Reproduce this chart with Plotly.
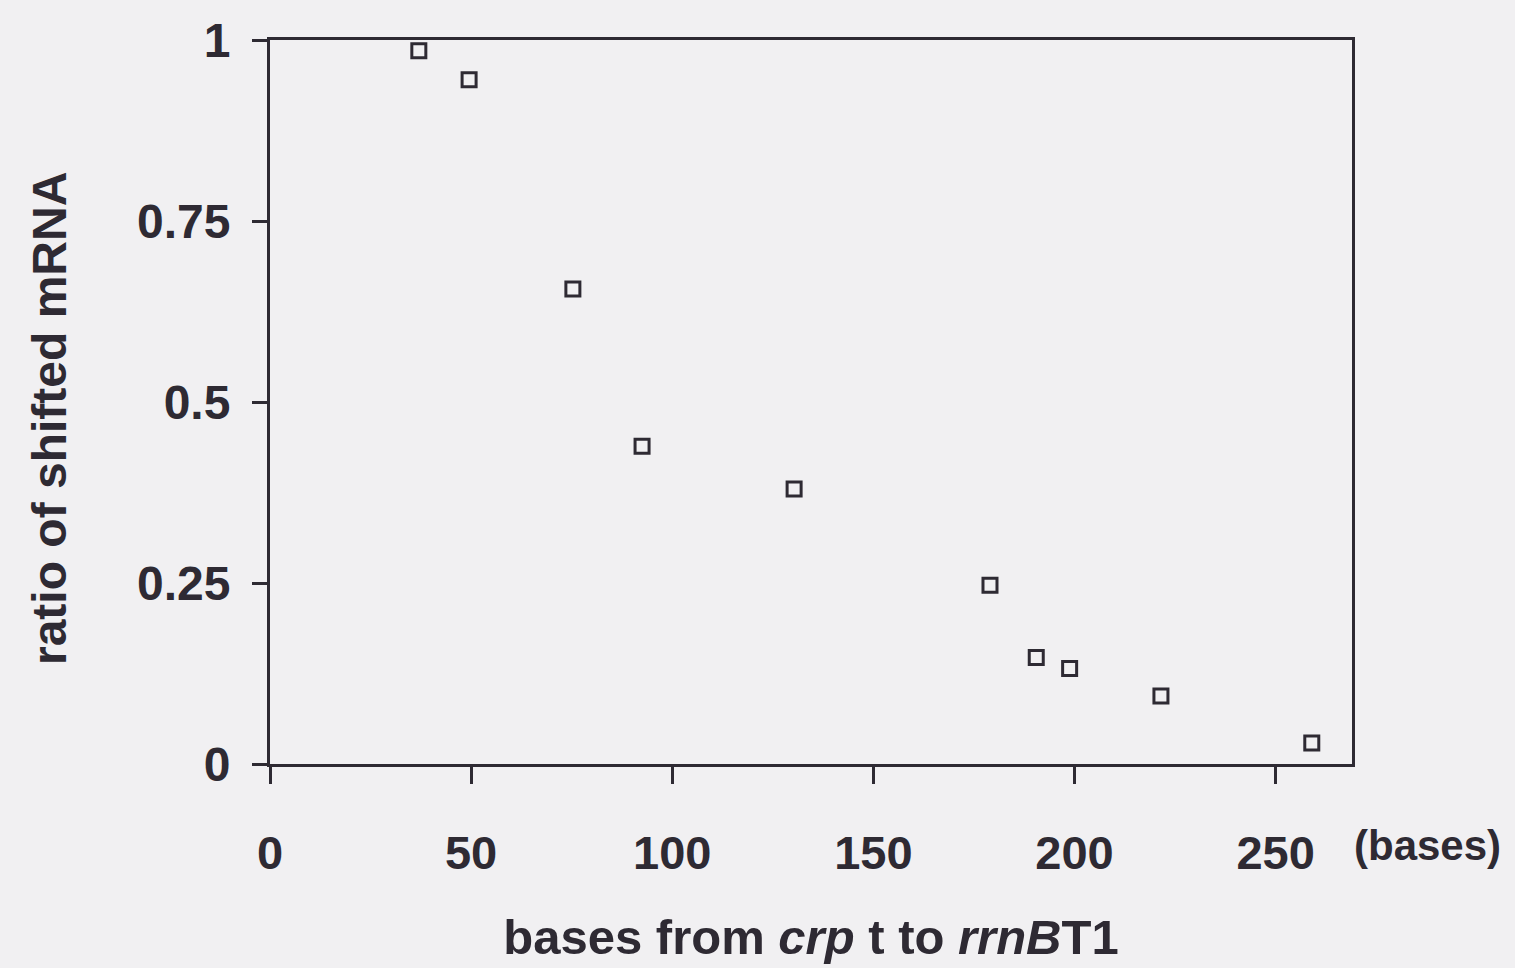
import plotly.graph_objects as go

bases = [37, 49.5, 75.3, 92.5, 130.3, 179, 190.5, 198.8, 221.5, 259]
ratio = [0.985, 0.945, 0.656, 0.439, 0.38, 0.247, 0.147, 0.132, 0.094, 0.029]

x_ticks = [0, 50, 100, 150, 200, 250]
y_ticks = [0, 0.25, 0.5, 0.75, 1]
y_tick_labels = ["0", "0.25", "0.5", "0.75", "1"]

ink = "#2e2a33"
bg = "#f1f0f2"
font = "Liberation Sans"

fig = go.Figure()
fig.add_trace(go.Scatter(
    x=bases, y=ratio, mode="markers",
    marker=dict(symbol="square-open", size=14, color=ink, line=dict(width=3, color=ink)),
    showlegend=False,
))

fig.update_layout(
    width=1515, height=968,
    margin=dict(l=270, r=163, t=40, b=202),
    paper_bgcolor=bg, plot_bgcolor=bg,
    font=dict(family=font, color=ink),
    xaxis=dict(
        range=[0, 269], tickvals=x_ticks, ticktext=[f"<b>{v}</b>" for v in x_ticks],
        ticks="outside", ticklen=17, tickwidth=3, tickcolor=ink,
        showline=True, linewidth=3, linecolor=ink, mirror=True,
        showgrid=False, zeroline=False,
        tickfont=dict(size=47, family=font, color=ink),
        ticklabelstandoff=29,
        title=dict(text="<b>bases from <i>crp</i> t to <i>rrnB</i>T1</b>",
                   font=dict(size=49, family=font, color=ink), standoff=42),
    ),
    yaxis=dict(
        range=[0, 1], tickvals=y_ticks, ticktext=[f"<b>{t}</b>" for t in y_tick_labels],
        ticks="outside", ticklen=15, tickwidth=3, tickcolor=ink,
        showline=True, linewidth=3, linecolor=ink, mirror=True,
        showgrid=False, zeroline=False,
        tickfont=dict(size=48, family=font, color=ink),
        ticklabelstandoff=12,
    ),
)

fig.add_annotation(
    text="<b>ratio of shifted mRNA</b>", x=0, y=0.5, xref="paper", yref="paper",
    xanchor="center", yanchor="middle", xshift=-221, yshift=-17, textangle=-90,
    showarrow=False, font=dict(size=48, family=font, color=ink),
)

fig.add_annotation(
    text="<b>(bases)</b>", x=1, y=0, xref="paper", yref="paper",
    xanchor="left", yanchor="middle", xshift=0, yshift=-81,
    showarrow=False, font=dict(size=42, family=font, color=ink),
)

fig.write_html(
    "out.html",
    config={"displayModeBar": False},
    post_script=f"document.body.style.margin='0';document.body.style.background='{bg}';",
)
